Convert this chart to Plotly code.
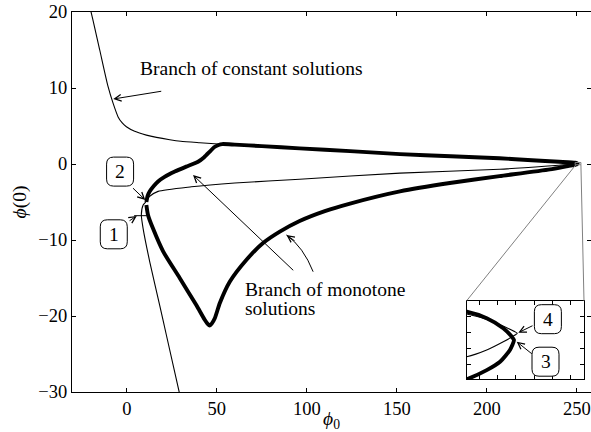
import plotly.graph_objects as go

# ---------------- data ----------------
# Branch of constant solutions (thin curve, one continuous branch)
const_x = [-21.0, -19.6, -15.0, -10.4, -7.6, -4.8, -2.5, -0.2, 4.4, 10.9, 16.5, 23.9, 30.0, 40.6,
           52.6, 75.0, 96.0, 124.0, 151.7, 180.0, 207.0, 225.0, 240.0, 249.0, 249.726, 250.18, 250.38,
           250.318, 249.998, 249.546, 249.0, 240.0, 207.0, 151.7, 96.0, 60.0, 35.9, 17.4, 12.5, 10.9,
           9.1, 8.1, 9.1, 12.8, 18.3, 22.0, 29.6]
const_y = [21.0, 19.8, 15.0, 10.2, 8.0, 6.2, 5.4, 4.9, 4.3, 3.8, 3.5, 3.2, 3.0, 2.8,
           2.6, 2.35, 2.06, 1.7, 1.3, 1.02, 0.75, 0.5, 0.28, 0.149, 0.120, 0.091, 0.0756,
           0.069, 0.0435, 0.012, -0.0137, -0.16, -0.7, -1.2, -2.0, -2.5, -3.0, -3.6, -4.3, -4.9,
           -5.4, -6.7, -8.5, -12.9, -18.6, -22.5, -30.5]

# Branch of monotone solutions (thick closed loop)
mono_x = [10.9, 11.6, 12.8, 15.0, 17.4, 21.0, 26.7, 33.0, 39.6, 43.0, 46.0, 48.5, 51.0, 53.0,
          60.0, 75.0, 96.0, 124.0, 151.7, 180.0, 207.0, 225.0, 240.0, 249.0, 249.546, 249.998,
          250.228, 250.29, 250.18, 249.91, 249.546, 249.0, 245.0, 235.0, 207.0, 179.4, 151.7,
          124.0, 110.0, 96.0, 85.0, 75.7, 66.5, 57.2, 51.7, 48.9, 47.2, 46.1, 44.8, 43.3, 38.7,
          29.4, 20.2, 14.6, 11.8, 10.9]
mono_y = [-5.0, -4.2, -3.6, -2.9, -2.3, -1.7, -1.0, -0.35, 0.3, 0.9, 1.6, 2.2, 2.5, 2.62,
          2.55, 2.35, 2.06, 1.7, 1.3, 1.02, 0.75, 0.5, 0.29, 0.158, 0.133, 0.095,
          0.063, 0.05, 0.012, -0.033, -0.065, -0.1, -0.27, -0.7, -1.6, -2.5, -3.6,
          -5.2, -6.2, -7.5, -8.9, -10.4, -12.6, -15.5, -18.3, -20.3, -21.0, -21.25, -21.0, -20.5, -18.6,
          -15.0, -11.5, -8.5, -6.7, -5.4]

# special point 1 on the thin branch
pt1_x = [7.6]
pt1_y = [-6.8]

x_ticks = [0, 50, 100, 150, 200, 250]
y_ticks = [-30, -20, -10, 0, 10, 20]

# ---------------- layout constants ----------------
FONT = "Liberation Serif"
FS = 19.5
TFS = 18.5
X_RANGE = [-30.4, 257.8]
Y_RANGE = [-30, 20]
INS_X_RANGE = [249.0, 252.2]
INS_Y_RANGE = [-0.1, 0.2]
INS_DOM_X = [0.7605, 0.9865]
INS_DOM_Y = [0.0334, 0.2403]

THICK = 3.9
THIN = 1.1

fig = go.Figure()
for xa, ya in (("x", "y"), ("x2", "y2")):
    fig.add_trace(go.Scatter(x=const_x, y=const_y, mode="lines", xaxis=xa, yaxis=ya,
                             line=dict(color="black", width=THIN, shape="spline", smoothing=0.6),
                             hoverinfo="skip"))
    fig.add_trace(go.Scatter(x=mono_x, y=mono_y, mode="lines", xaxis=xa, yaxis=ya,
                             line=dict(color="black", width=THICK, shape="spline", smoothing=0.6),
                             hoverinfo="skip"))
fig.add_trace(go.Scatter(x=pt1_x, y=pt1_y, mode="markers",
                         marker=dict(symbol="line-ew", size=9, line=dict(color="black", width=1)),
                         hoverinfo="skip"))

axis_common = dict(ticks="inside", ticklen=4, tickwidth=1, tickcolor="black", showline=True,
                   linecolor="black", linewidth=1, mirror="ticks", showgrid=False, zeroline=False,
                   automargin=False)

fig.update_layout(
    width=591, height=432,
    margin=dict(l=72, r=0, t=12, b=40),
    plot_bgcolor="white", paper_bgcolor="white", showlegend=False,
    font=dict(family=FONT, size=FS, color="black"),
    xaxis=dict(range=X_RANGE, tickvals=x_ticks, tickfont=dict(family=FONT, size=TFS),
               ticklabeloverflow="allow",
               title=dict(text="<i>ϕ</i><sub>0</sub>", font=dict(family=FONT, size=FS)),
               **axis_common),
    yaxis=dict(range=Y_RANGE, tickvals=y_ticks, tickfont=dict(family=FONT, size=TFS),
               ticklabeloverflow="allow",
               title=dict(text="<i>ϕ</i>(0)", font=dict(family=FONT, size=FS), standoff=6),
               **axis_common),
    xaxis2=dict(domain=INS_DOM_X, range=INS_X_RANGE, anchor="y2", showticklabels=False,
                tick0=249.34, dtick=0.5, **axis_common),
    yaxis2=dict(domain=INS_DOM_Y, range=INS_Y_RANGE, anchor="x2", showticklabels=False,
                tick0=0.0168, dtick=0.061, **axis_common),
)

# --- inset marker rectangle and connectors ---
shapes = []
shapes.append(dict(type="rect", xref="x", yref="y", x0=INS_X_RANGE[0], x1=INS_X_RANGE[1],
                   y0=INS_Y_RANGE[0], y1=INS_Y_RANGE[1], line=dict(color="#808080", width=1)))
cx_left = X_RANGE[0] + INS_DOM_X[0] * (X_RANGE[1] - X_RANGE[0])
cx_right = X_RANGE[0] + INS_DOM_X[1] * (X_RANGE[1] - X_RANGE[0])
cy_top = Y_RANGE[0] + INS_DOM_Y[1] * (Y_RANGE[1] - Y_RANGE[0])
shapes.append(dict(type="line", xref="x", yref="y", x0=cx_left, y0=cy_top,
                   x1=INS_X_RANGE[0] + 0.4, y1=INS_Y_RANGE[0], line=dict(color="#808080", width=1)))
shapes.append(dict(type="line", xref="x", yref="y", x0=cx_right, y0=cy_top,
                   x1=INS_X_RANGE[1], y1=INS_Y_RANGE[0], line=dict(color="#808080", width=1)))


def rbox(xc, yc, w, h, r, xref, yref):
    p = (f"M{-w/2+r},{-h/2} L{w/2-r},{-h/2} Q{w/2},{-h/2} {w/2},{-h/2+r} "
         f"L{w/2},{h/2-r} Q{w/2},{h/2} {w/2-r},{h/2} L{-w/2+r},{h/2} "
         f"Q{-w/2},{h/2} {-w/2},{h/2-r} L{-w/2},{-h/2+r} Q{-w/2},{-h/2} {-w/2+r},{-h/2} Z")
    return dict(type="path", path=p, xsizemode="pixel", ysizemode="pixel", xanchor=xc, yanchor=yc,
                xref=xref, yref=yref, line=dict(color="black", width=1), fillcolor="white")


boxes = [("1", -7.2, -9.25, "x", "y"), ("2", -3.7, -1.0, "x", "y"),
         ("4", 251.215, 0.1294, "x2", "y2"), ("3", 251.15, -0.0328, "x2", "y2")]
for lab, bx, by, xr, yr in boxes:
    shapes.append(rbox(bx, by, 27, 29, 7, xr, yr))

# curved arrow shaft
shapes.append(dict(type="path", xref="x", yref="y", path="M 103.5,-14.17 Q 98.1,-10.93 88.7,-9.34",
                   line=dict(color="black", width=1)))
fig.update_layout(shapes=shapes)

ann = []
for lab, bx, by, xr, yr in boxes:
    ann.append(dict(x=bx, y=by, xref=xr, yref=yr, text=lab, showarrow=False,
                    font=dict(family=FONT, size=FS), xanchor="center", yanchor="middle"))

arrow = dict(showarrow=True, arrowhead=5, arrowsize=1.3, arrowwidth=1, arrowcolor="black",
             text="", axref="pixel", ayref="pixel")
ann.append(dict(x=-7.5, y=8.55, xref="x", yref="y", ax=49.5, ay=-8, **arrow))
ann.append(dict(x=10.3, y=-4.74, xref="x", yref="y", ax=-13.8, ay=-13.3, **arrow))
ann.append(dict(x=5.56, y=-6.84, xref="x", yref="y", ax=-8.7, ay=5.7, **arrow))
ann.append(dict(x=36.8, y=-1.45, xref="x", yref="y", ax=101.7, ay=96.7, **arrow))
ann.append(dict(x=88.7, y=-9.34, xref="x", yref="y", ax=9.7, ay=7.0, **arrow))
ann.append(dict(x=250.408, y=0.0779, xref="x2", yref="y2", ax=15.7, ay=-7.7, **arrow))
ann.append(dict(x=250.364, y=0.0435, xref="x2", yref="y2", ax=16.6, ay=13.3, **arrow))

ann.append(dict(x=6.1, y=12.6, xref="x", yref="y", text="Branch of constant solutions",
                showarrow=False, xanchor="left", yanchor="middle", font=dict(family=FONT, size=FS)))
ann.append(dict(x=64.6, y=-16.45, xref="x", yref="y", text="Branch of monotone",
                showarrow=False, xanchor="left", yanchor="middle", font=dict(family=FONT, size=FS)))
ann.append(dict(x=64.6, y=-18.95, xref="x", yref="y", text="solutions",
                showarrow=False, xanchor="left", yanchor="middle", font=dict(family=FONT, size=FS)))
fig.update_layout(annotations=ann)

# remove the browser's default 8 px body margin so the 591x432 figure fills the window
fig.write_html("out.html", config={"displayModeBar": False},
               post_script="document.body.style.margin='0px';")
